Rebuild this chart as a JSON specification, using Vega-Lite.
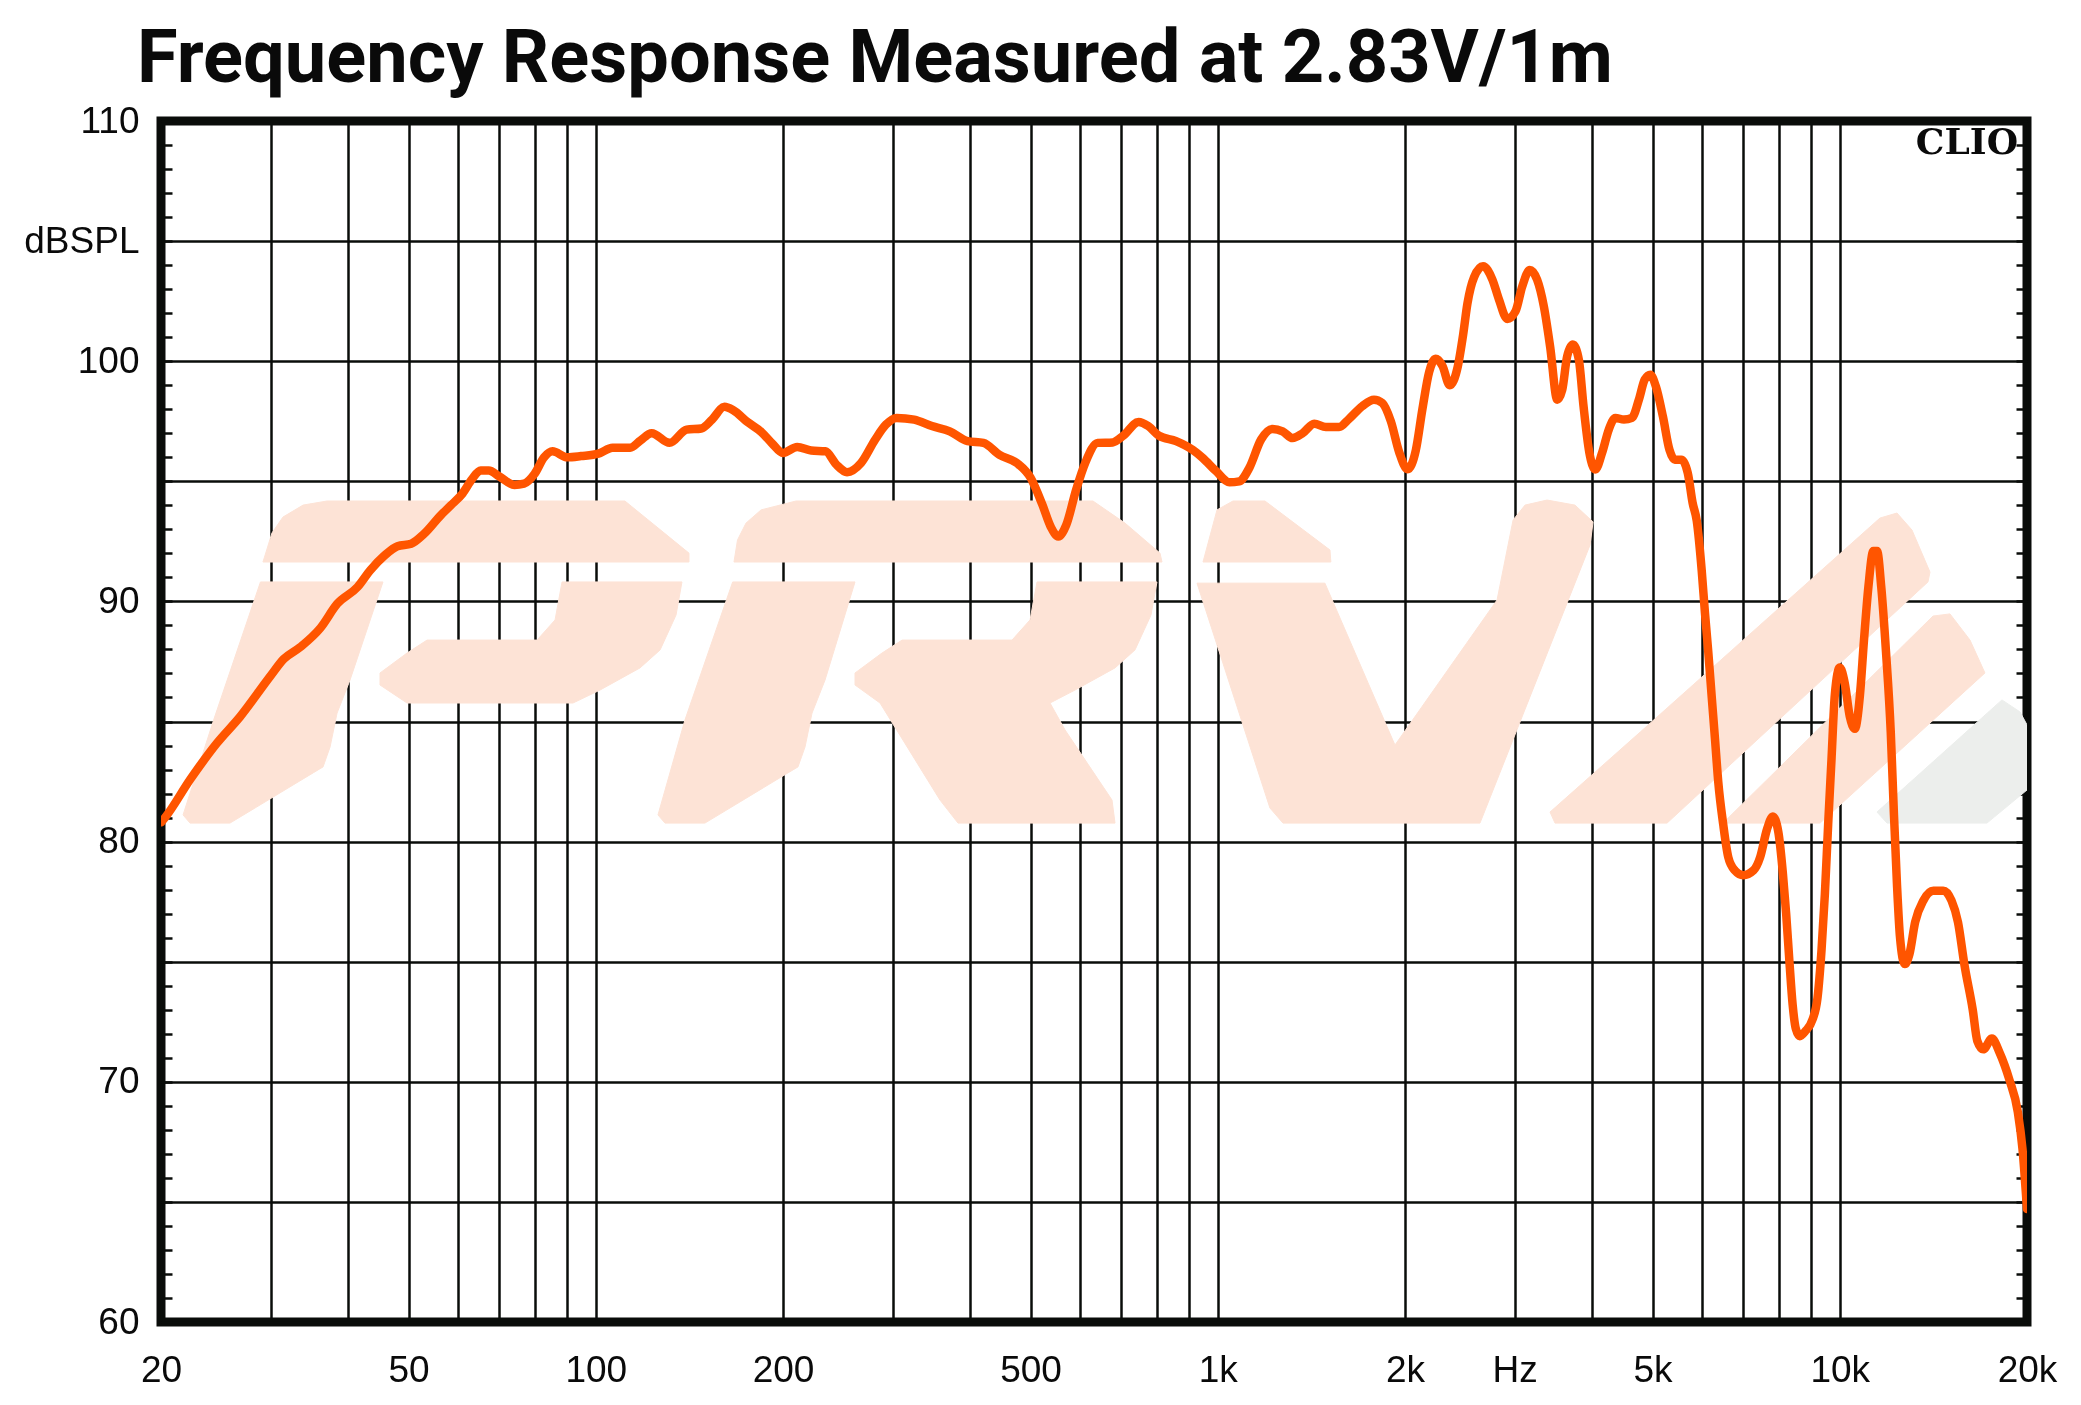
{
  "$schema": "https://vega.github.io/schema/vega-lite/v6.json",
  "width": 1866,
  "height": 1201,
  "autosize": {"type": "none"},
  "padding": {"left": 161, "top": 121, "right": 54, "bottom": 83},
  "background": "white",
  "title": {
    "text": "Frequency Response Measured at 2.83V/1m",
    "anchor": "start",
    "frame": "group",
    "dx": -24,
    "dy": 93,
    "offset": 39,
    "baseline": "alphabetic",
    "font": "Roboto",
    "fontSize": 74,
    "fontWeight": "bold",
    "color": "#0a0a0a"
  },
  "config": {"view": {"stroke": "#0a0c0a", "strokeWidth": 9}},
  "resolve": {"axis": {"x": "independent", "y": "independent"}},
  "datasets": {
    "watermark": [
      {"shape": "P1", "i": 0, "freq": 29.17, "spl": 91.64}, {"shape": "P1", "i": 1, "freq": 30.16, "spl": 92.85},
      {"shape": "P1", "i": 2, "freq": 31.41, "spl": 93.51}, {"shape": "P1", "i": 3, "freq": 33.84, "spl": 94.01},
      {"shape": "P1", "i": 4, "freq": 36.99, "spl": 94.18}, {"shape": "P1", "i": 5, "freq": 111.4, "spl": 94.18},
      {"shape": "P1", "i": 6, "freq": 141.2, "spl": 92.01}, {"shape": "P1", "i": 7, "freq": 141.2, "spl": 91.64},

      {"shape": "P2", "i": 0, "freq": 28.9, "spl": 90.81}, {"shape": "P2", "i": 1, "freq": 45.49, "spl": 90.81},
      {"shape": "P2", "i": 2, "freq": 40.27, "spl": 86.73}, {"shape": "P2", "i": 3, "freq": 38.38, "spl": 85.35},
      {"shape": "P2", "i": 4, "freq": 37.40, "spl": 83.94}, {"shape": "P2", "i": 5, "freq": 36.44, "spl": 83.11},
      {"shape": "P2", "i": 6, "freq": 35.12, "spl": 82.86}, {"shape": "P2", "i": 7, "freq": 25.82, "spl": 80.77},
      {"shape": "P2", "i": 8, "freq": 22.27, "spl": 80.77}, {"shape": "P2", "i": 9, "freq": 21.70, "spl": 81.11},
      {"shape": "P2", "i": 10, "freq": 24.3, "spl": 85.06},

      {"shape": "P3", "i": 0, "freq": 44.99, "spl": 87.02}, {"shape": "P3", "i": 1, "freq": 49.72, "spl": 87.85},
      {"shape": "P3", "i": 2, "freq": 53.55, "spl": 88.39}, {"shape": "P3", "i": 3, "freq": 80.47, "spl": 88.39},
      {"shape": "P3", "i": 4, "freq": 86.01, "spl": 89.23}, {"shape": "P3", "i": 5, "freq": 88.26, "spl": 90.81},
      {"shape": "P3", "i": 6, "freq": 137.6, "spl": 90.81}, {"shape": "P3", "i": 7, "freq": 134.6, "spl": 89.43},
      {"shape": "P3", "i": 8, "freq": 126.9, "spl": 87.98}, {"shape": "P3", "i": 9, "freq": 117.8, "spl": 87.23},
      {"shape": "P3", "i": 10, "freq": 101.6, "spl": 86.31}, {"shape": "P3", "i": 11, "freq": 91.93, "spl": 85.77},
      {"shape": "P3", "i": 12, "freq": 49.72, "spl": 85.77}, {"shape": "P3", "i": 13, "freq": 44.99, "spl": 86.52},

      {"shape": "R1", "i": 0, "freq": 166.8, "spl": 91.64}, {"shape": "R1", "i": 1, "freq": 169.0, "spl": 92.56},
      {"shape": "R1", "i": 2, "freq": 174.4, "spl": 93.26}, {"shape": "R1", "i": 3, "freq": 184.4, "spl": 93.81},
      {"shape": "R1", "i": 4, "freq": 209.9, "spl": 94.18}, {"shape": "R1", "i": 5, "freq": 630.1, "spl": 94.18},
      {"shape": "R1", "i": 6, "freq": 709.4, "spl": 93.26}, {"shape": "R1", "i": 7, "freq": 807.5, "spl": 92.01},
      {"shape": "R1", "i": 8, "freq": 813.5, "spl": 91.64},

      {"shape": "R2", "i": 0, "freq": 166.0, "spl": 90.81}, {"shape": "R2", "i": 1, "freq": 261.1, "spl": 90.81},
      {"shape": "R2", "i": 2, "freq": 233.7, "spl": 86.73}, {"shape": "R2", "i": 3, "freq": 222.7, "spl": 85.35},
      {"shape": "R2", "i": 4, "freq": 217.0, "spl": 83.94}, {"shape": "R2", "i": 5, "freq": 211.4, "spl": 83.11},
      {"shape": "R2", "i": 6, "freq": 203.7, "spl": 82.86}, {"shape": "R2", "i": 7, "freq": 149.8, "spl": 80.77},
      {"shape": "R2", "i": 8, "freq": 129.2, "spl": 80.77}, {"shape": "R2", "i": 9, "freq": 125.9, "spl": 81.11},
      {"shape": "R2", "i": 10, "freq": 139.1, "spl": 85.06},

      {"shape": "R3", "i": 0, "freq": 261.1, "spl": 87.02}, {"shape": "R3", "i": 1, "freq": 288.5, "spl": 87.85},
      {"shape": "R3", "i": 2, "freq": 310.8, "spl": 88.39}, {"shape": "R3", "i": 3, "freq": 466.9, "spl": 88.39},
      {"shape": "R3", "i": 4, "freq": 499.1, "spl": 89.23}, {"shape": "R3", "i": 5, "freq": 512.2, "spl": 90.81},
      {"shape": "R3", "i": 6, "freq": 798.5, "spl": 90.81}, {"shape": "R3", "i": 7, "freq": 781.0, "spl": 89.43},
      {"shape": "R3", "i": 8, "freq": 736.2, "spl": 87.98}, {"shape": "R3", "i": 9, "freq": 683.7, "spl": 87.23},
      {"shape": "R3", "i": 10, "freq": 589.6, "spl": 86.31}, {"shape": "R3", "i": 11, "freq": 537.5, "spl": 85.77},
      {"shape": "R3", "i": 12, "freq": 568.2, "spl": 84.65}, {"shape": "R3", "i": 13, "freq": 676.1, "spl": 81.73},
      {"shape": "R3", "i": 14, "freq": 683.7, "spl": 80.77}, {"shape": "R3", "i": 15, "freq": 382.3, "spl": 80.77},
      {"shape": "R3", "i": 16, "freq": 357.6, "spl": 81.73}, {"shape": "R3", "i": 17, "freq": 286.4, "spl": 85.77},
      {"shape": "R3", "i": 18, "freq": 261.1, "spl": 86.52},

      {"shape": "V1", "i": 0, "freq": 946.8, "spl": 91.64}, {"shape": "V1", "i": 1, "freq": 997.2, "spl": 93.81},
      {"shape": "V1", "i": 2, "freq": 1058, "spl": 94.18}, {"shape": "V1", "i": 3, "freq": 1191, "spl": 94.18},
      {"shape": "V1", "i": 4, "freq": 1515, "spl": 92.14}, {"shape": "V1", "i": 5, "freq": 1520, "spl": 91.64},

      {"shape": "V2", "i": 0, "freq": 926.0, "spl": 90.76}, {"shape": "V2", "i": 1, "freq": 1487, "spl": 90.76},
      {"shape": "V2", "i": 2, "freq": 1927, "spl": 84.02}, {"shape": "V2", "i": 3, "freq": 2812, "spl": 90.06},
      {"shape": "V2", "i": 4, "freq": 2984, "spl": 93.39}, {"shape": "V2", "i": 5, "freq": 3119, "spl": 94.01},
      {"shape": "V2", "i": 6, "freq": 3384, "spl": 94.22}, {"shape": "V2", "i": 7, "freq": 3752, "spl": 94.01},
      {"shape": "V2", "i": 8, "freq": 4012, "spl": 93.31}, {"shape": "V2", "i": 9, "freq": 3968, "spl": 92.35},
      {"shape": "V2", "i": 10, "freq": 2640, "spl": 80.77}, {"shape": "V2", "i": 11, "freq": 1273, "spl": 80.77},
      {"shape": "V2", "i": 12, "freq": 1213, "spl": 81.40},

      {"shape": "S1", "i": 0, "freq": 3485, "spl": 80.77}, {"shape": "S1", "i": 1, "freq": 3421, "spl": 81.23},
      {"shape": "S1", "i": 2, "freq": 4777, "spl": 84.56}, {"shape": "S1", "i": 3, "freq": 11604, "spl": 93.47},
      {"shape": "S1", "i": 4, "freq": 12359, "spl": 93.68}, {"shape": "S1", "i": 5, "freq": 13066, "spl": 92.97},
      {"shape": "S1", "i": 6, "freq": 13966, "spl": 91.22}, {"shape": "S1", "i": 7, "freq": 13862, "spl": 90.81},
      {"shape": "S1", "i": 8, "freq": 5277, "spl": 80.77},

      {"shape": "S2", "i": 0, "freq": 6490, "spl": 80.77}, {"shape": "S2", "i": 1, "freq": 14122, "spl": 89.39},
      {"shape": "S2", "i": 2, "freq": 15038, "spl": 89.48}, {"shape": "S2", "i": 3, "freq": 16196, "spl": 88.39},
      {"shape": "S2", "i": 4, "freq": 17118, "spl": 87.02}, {"shape": "S2", "i": 5, "freq": 9297, "spl": 80.77}
    ],
    "greymark": [
      {"shape": "G", "i": 0, "freq": 11912, "spl": 80.77}, {"shape": "G", "i": 1, "freq": 11477, "spl": 81.23},
      {"shape": "G", "i": 2, "freq": 18229, "spl": 85.90}, {"shape": "G", "i": 3, "freq": 19489, "spl": 85.40},
      {"shape": "G", "i": 4, "freq": 20000, "spl": 84.86}, {"shape": "G", "i": 5, "freq": 20000, "spl": 82.15},
      {"shape": "G", "i": 6, "freq": 17245, "spl": 80.77}
    ],
    "response": [
      {"freq": 20, "spl": 80.8}, {"freq": 20.3, "spl": 81.0}, {"freq": 22.3, "spl": 82.6}, {"freq": 24.6, "spl": 84.1},
      {"freq": 26.8, "spl": 85.2}, {"freq": 30, "spl": 86.9}, {"freq": 31.5, "spl": 87.6}, {"freq": 33.5, "spl": 88.1},
      {"freq": 36.1, "spl": 88.9}, {"freq": 38.4, "spl": 89.9}, {"freq": 41.4, "spl": 90.6}, {"freq": 43.4, "spl": 91.3},
      {"freq": 45.7, "spl": 91.9}, {"freq": 48, "spl": 92.3}, {"freq": 50.5, "spl": 92.4}, {"freq": 52.9, "spl": 92.8},
      {"freq": 56.4, "spl": 93.6}, {"freq": 58.5, "spl": 94.0}, {"freq": 61.1, "spl": 94.5}, {"freq": 63.3, "spl": 95.1},
      {"freq": 65.3, "spl": 95.45}, {"freq": 67.3, "spl": 95.45}, {"freq": 70, "spl": 95.2}, {"freq": 74, "spl": 94.85},
      {"freq": 76.7, "spl": 94.9}, {"freq": 79.7, "spl": 95.3}, {"freq": 82.6, "spl": 96.0}, {"freq": 85.2, "spl": 96.25},
      {"freq": 90, "spl": 96.0}, {"freq": 94.7, "spl": 96.05}, {"freq": 101, "spl": 96.15}, {"freq": 106.4, "spl": 96.4},
      {"freq": 113.6, "spl": 96.4}, {"freq": 118, "spl": 96.7}, {"freq": 123, "spl": 97.0}, {"freq": 131.4, "spl": 96.6},
      {"freq": 140, "spl": 97.15}, {"freq": 147.8, "spl": 97.2}, {"freq": 153.8, "spl": 97.57}, {"freq": 161, "spl": 98.1},
      {"freq": 166.4, "spl": 97.96}, {"freq": 175.5, "spl": 97.46}, {"freq": 184.8, "spl": 97.04}, {"freq": 192.2, "spl": 96.57},
      {"freq": 200, "spl": 96.18}, {"freq": 210.8, "spl": 96.43}, {"freq": 222, "spl": 96.28}, {"freq": 234, "spl": 96.25},
      {"freq": 243.6, "spl": 95.7}, {"freq": 253.5, "spl": 95.38}, {"freq": 267, "spl": 95.76}, {"freq": 281.4, "spl": 96.74},
      {"freq": 292.8, "spl": 97.36}, {"freq": 304.6, "spl": 97.64}, {"freq": 325, "spl": 97.57}, {"freq": 347, "spl": 97.3},
      {"freq": 370.8, "spl": 97.08}, {"freq": 396, "spl": 96.67}, {"freq": 420, "spl": 96.6}, {"freq": 445.8, "spl": 96.1},
      {"freq": 476, "spl": 95.75}, {"freq": 500, "spl": 95.15}, {"freq": 522, "spl": 94.05}, {"freq": 539, "spl": 93.1},
      {"freq": 554, "spl": 92.7}, {"freq": 571, "spl": 93.2}, {"freq": 592, "spl": 94.65}, {"freq": 613, "spl": 95.8},
      {"freq": 641, "spl": 96.6}, {"freq": 678, "spl": 96.62}, {"freq": 705, "spl": 96.9}, {"freq": 746, "spl": 97.47},
      {"freq": 773, "spl": 97.3}, {"freq": 804, "spl": 96.9}, {"freq": 857, "spl": 96.67}, {"freq": 912, "spl": 96.3},
      {"freq": 946, "spl": 95.97}, {"freq": 994, "spl": 95.42}, {"freq": 1044, "spl": 94.96}, {"freq": 1083, "spl": 95.0},
      {"freq": 1124, "spl": 95.56}, {"freq": 1174, "spl": 96.74}, {"freq": 1225, "spl": 97.18}, {"freq": 1271, "spl": 97.08},
      {"freq": 1319, "spl": 96.8}, {"freq": 1369, "spl": 97.0}, {"freq": 1429, "spl": 97.4}, {"freq": 1492, "spl": 97.26},
      {"freq": 1567, "spl": 97.26}, {"freq": 1626, "spl": 97.6}, {"freq": 1708, "spl": 98.13}, {"freq": 1783, "spl": 98.4},
      {"freq": 1839, "spl": 98.26}, {"freq": 1898, "spl": 97.5}, {"freq": 1958, "spl": 96.2}, {"freq": 2019, "spl": 95.5},
      {"freq": 2082, "spl": 96.3}, {"freq": 2133, "spl": 98.0}, {"freq": 2187, "spl": 99.55}, {"freq": 2240, "spl": 100.1},
      {"freq": 2298, "spl": 99.8}, {"freq": 2360, "spl": 99.0}, {"freq": 2430, "spl": 99.75}, {"freq": 2480, "spl": 101.1},
      {"freq": 2520, "spl": 102.4}, {"freq": 2583, "spl": 103.5}, {"freq": 2670, "spl": 103.95}, {"freq": 2764, "spl": 103.4},
      {"freq": 2832, "spl": 102.57}, {"freq": 2920, "spl": 101.76}, {"freq": 3011, "spl": 102.08}, {"freq": 3086, "spl": 103.1},
      {"freq": 3174, "spl": 103.8}, {"freq": 3261, "spl": 103.4}, {"freq": 3343, "spl": 102.3}, {"freq": 3423, "spl": 100.6},
      {"freq": 3514, "spl": 98.4}, {"freq": 3579, "spl": 98.8}, {"freq": 3645, "spl": 100.2}, {"freq": 3722, "spl": 100.7},
      {"freq": 3806, "spl": 100.07}, {"freq": 3874, "spl": 98.1}, {"freq": 3957, "spl": 96.2}, {"freq": 4046, "spl": 95.49},
      {"freq": 4148, "spl": 96.18}, {"freq": 4252, "spl": 97.15}, {"freq": 4358, "spl": 97.64}, {"freq": 4498, "spl": 97.57},
      {"freq": 4634, "spl": 97.64}, {"freq": 4754, "spl": 98.4}, {"freq": 4859, "spl": 99.24}, {"freq": 4960, "spl": 99.44},
      {"freq": 5061, "spl": 98.96}, {"freq": 5196, "spl": 97.7}, {"freq": 5325, "spl": 96.3}, {"freq": 5429, "spl": 95.9},
      {"freq": 5565, "spl": 95.9}, {"freq": 5697, "spl": 95.35}, {"freq": 5800, "spl": 94.1}, {"freq": 5890, "spl": 93.35},
      {"freq": 5998, "spl": 91.3}, {"freq": 6072, "spl": 89.5}, {"freq": 6146, "spl": 87.9}, {"freq": 6222, "spl": 86.1},
      {"freq": 6300, "spl": 84.3}, {"freq": 6377, "spl": 82.5}, {"freq": 6497, "spl": 80.7}, {"freq": 6619, "spl": 79.35},
      {"freq": 6782, "spl": 78.8}, {"freq": 6996, "spl": 78.6}, {"freq": 7265, "spl": 78.8}, {"freq": 7447, "spl": 79.35},
      {"freq": 7636, "spl": 80.5}, {"freq": 7805, "spl": 81.05}, {"freq": 7966, "spl": 80.4}, {"freq": 8100, "spl": 78.7},
      {"freq": 8200, "spl": 77.0}, {"freq": 8300, "spl": 75.0}, {"freq": 8400, "spl": 73.2}, {"freq": 8500, "spl": 72.2},
      {"freq": 8626, "spl": 71.9}, {"freq": 8799, "spl": 72.1}, {"freq": 9044, "spl": 72.6}, {"freq": 9210, "spl": 73.5},
      {"freq": 9348, "spl": 75.5}, {"freq": 9463, "spl": 77.8}, {"freq": 9579, "spl": 80.7}, {"freq": 9698, "spl": 83.4},
      {"freq": 9818, "spl": 86.1}, {"freq": 10000, "spl": 87.25}, {"freq": 10186, "spl": 86.6}, {"freq": 10379, "spl": 85.2},
      {"freq": 10576, "spl": 84.7}, {"freq": 10776, "spl": 86.1}, {"freq": 10939, "spl": 88.4}, {"freq": 11118, "spl": 90.6},
      {"freq": 11324, "spl": 92.1}, {"freq": 11482, "spl": 92.1}, {"freq": 11660, "spl": 90.6}, {"freq": 11867, "spl": 87.9},
      {"freq": 12078, "spl": 84.55}, {"freq": 12218, "spl": 81.2}, {"freq": 12360, "spl": 78.2}, {"freq": 12500, "spl": 76.0},
      {"freq": 12720, "spl": 74.9}, {"freq": 12940, "spl": 75.3}, {"freq": 13220, "spl": 76.65}, {"freq": 13630, "spl": 77.55},
      {"freq": 14140, "spl": 77.95}, {"freq": 14670, "spl": 77.95}, {"freq": 15120, "spl": 77.55}, {"freq": 15490, "spl": 76.65},
      {"freq": 15870, "spl": 74.85}, {"freq": 16360, "spl": 73.0}, {"freq": 16640, "spl": 71.7}, {"freq": 17010, "spl": 71.35},
      {"freq": 17560, "spl": 71.8}, {"freq": 18080, "spl": 71.2}, {"freq": 18730, "spl": 70.1}, {"freq": 19330, "spl": 68.75},
      {"freq": 19670, "spl": 67.2}, {"freq": 20000, "spl": 64.7}
    ]
  },
  "layer": [
    {
      "data": {"name": "watermark"},
      "mark": {"type": "line", "fill": "#fde3d6", "stroke": "#fde3d6", "strokeWidth": 1, "interpolate": "linear-closed", "blend": "multiply", "clip": true},
      "encoding": {
        "x": {"field": "freq", "type": "quantitative", "scale": {"type": "log"}, "axis": null},
        "y": {"field": "spl", "type": "quantitative", "axis": null},
        "detail": {"field": "shape", "type": "nominal"},
        "order": {"field": "i", "type": "quantitative"}
      }
    },
    {
      "data": {"name": "greymark"},
      "mark": {"type": "line", "fill": "#eceeec", "stroke": "#eceeec", "strokeWidth": 1, "interpolate": "linear-closed", "blend": "multiply", "clip": true},
      "encoding": {
        "x": {"field": "freq", "type": "quantitative", "scale": {"type": "log"}, "axis": null},
        "y": {"field": "spl", "type": "quantitative", "axis": null},
        "detail": {"field": "shape", "type": "nominal"},
        "order": {"field": "i", "type": "quantitative"}
      }
    },
    {
      "data": {"name": "response"},
      "mark": {"type": "line", "color": "#ff5500", "strokeWidth": 8.5, "interpolate": "monotone", "strokeCap": "round", "strokeJoin": "round", "clip": true},
      "encoding": {
        "x": {
          "field": "freq", "type": "quantitative",
          "scale": {"type": "log", "domain": [20, 20000], "nice": false},
          "axis": {
            "title": null,
            "values": [20, 30, 40, 50, 60, 70, 80, 90, 100, 200, 300, 400, 500, 600, 700, 800, 900, 1000, 2000, 3000, 4000, 5000, 6000, 7000, 8000, 9000, 10000, 20000],
            "grid": true, "gridColor": "#0a0c0a", "gridWidth": 2.5, "gridOpacity": 1,
            "domain": false, "ticks": false,
            "labelExpr": "datum.value == 1000 ? '1k' : datum.value == 2000 ? '2k' : datum.value == 3000 ? 'Hz' : datum.value == 5000 ? '5k' : datum.value == 10000 ? '10k' : datum.value == 20000 ? '20k' : (datum.value == 20 || datum.value == 50 || datum.value == 100 || datum.value == 200 || datum.value == 500) ? ('' + datum.value) : ''",
            "labelFont": "Liberation Sans", "labelFontSize": 37, "labelColor": "#0a0a0a",
            "labelPadding": 30, "labelOverlap": false, "labelBound": false, "labelFlush": false
          }
        },
        "y": {
          "field": "spl", "type": "quantitative",
          "scale": {"domain": [60, 110], "nice": false, "zero": false},
          "axis": {
            "title": null,
            "orient": "left",
            "values": [60,61,62,63,64,65,66,67,68,69,70,71,72,73,74,75,76,77,78,79,80,81,82,83,84,85,86,87,88,89,90,91,92,93,94,95,96,97,98,99,100,101,102,103,104,105,106,107,108,109,110],
            "grid": true, "gridColor": "#0a0c0a", "gridWidth": 2.5,
            "gridOpacity": {"condition": {"test": "datum.value % 5 === 0", "value": 1}, "value": 0},
            "domain": false,
            "ticks": true, "tickSize": -11, "tickWidth": 2.5, "tickColor": "#0a0c0a",
            "labelExpr": "datum.value == 105 ? 'dBSPL' : (datum.value % 10 == 0 ? ('' + datum.value) : '')",
            "labelFont": "Liberation Sans", "labelFontSize": 37, "labelColor": "#0a0a0a",
            "labelPadding": 33, "labelOverlap": false, "labelBound": false, "labelFlush": false
          }
        }
      }
    },
    {
      "data": {"values": [{"brand": "CLIO"}]},
      "mark": {"type": "text", "align": "right", "baseline": "middle", "dx": -9, "font": "DejaVu Serif", "fontWeight": "bold", "fontSize": 36, "color": "#0a0a0a"},
      "encoding": {
        "text": {"field": "brand", "type": "nominal"},
        "x": {"datum": 20000, "type": "quantitative", "scale": {"type": "log"}, "axis": null},
        "y": {
          "datum": 109.1, "type": "quantitative",
          "axis": {
            "title": null,
            "orient": "right",
            "values": [60,61,62,63,64,65,66,67,68,69,70,71,72,73,74,75,76,77,78,79,80,81,82,83,84,85,86,87,88,89,90,91,92,93,94,95,96,97,98,99,100,101,102,103,104,105,106,107,108,109,110],
            "grid": false, "domain": false, "labels": false,
            "ticks": true, "tickSize": -11, "tickWidth": 2.5, "tickColor": "#0a0c0a"
          }
        }
      }
    }
  ]
}
